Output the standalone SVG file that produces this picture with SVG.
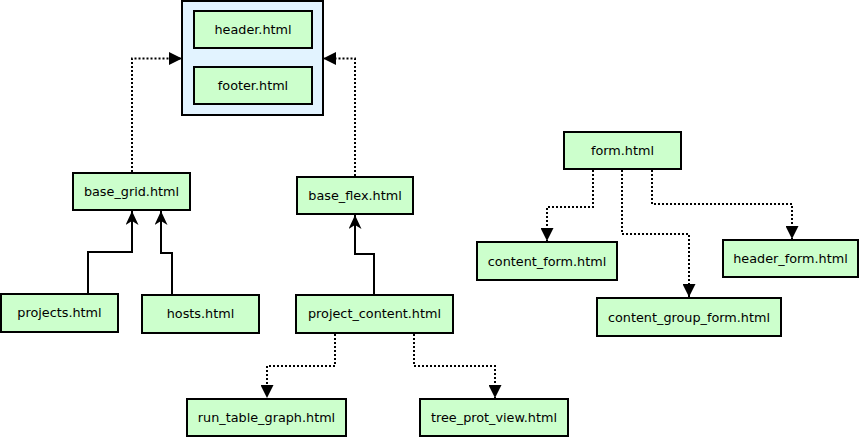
<svg xmlns="http://www.w3.org/2000/svg" width="860" height="437" viewBox="0 0 860 437">
<style>
.n rect{fill:#ccffcc;stroke:#000;stroke-width:2}
.n text{font-family:"DejaVu Sans",sans-serif;font-size:12.8px;fill:#000;text-anchor:middle;dominant-baseline:central}
.s{fill:none;stroke:#000;stroke-width:2;marker-end:url(#st)}
.d{fill:none;stroke:#000;stroke-width:2;stroke-dasharray:2,2;marker-end:url(#tr)}
</style>
<defs>
<marker id="st" markerUnits="userSpaceOnUse" markerWidth="14" markerHeight="13" viewBox="0 0 14 13" refX="14" refY="6.5" orient="auto">
<path d="M0,0 L14,6.5 L0,13 L4,6.5 Z" fill="#000"/>
</marker>
<marker id="tr" markerUnits="userSpaceOnUse" markerWidth="13" markerHeight="13" viewBox="0 0 13 13" refX="13" refY="6.5" orient="auto">
<path d="M0,0 L13,6.5 L0,13 Z" fill="#000"/>
</marker>
</defs>
<rect x="0" y="0" width="860" height="437" fill="#fff"/>
<g id="layout">
<rect x="182" y="1" width="141" height="114" fill="#e2f3ff" stroke="#000" stroke-width="2"/>
</g>
<g id="header" class="n"><rect x="194" y="11" width="118" height="37"/><text x="253" y="29.5">header.html</text></g>
<g id="footer" class="n"><rect x="194" y="67" width="118" height="37"/><text x="253" y="85.5">footer.html</text></g>
<g id="base_grid" class="n"><rect x="73" y="173" width="117" height="37"/><text x="131.5" y="191.5">base_grid.html</text></g>
<g id="base_flex" class="n"><rect x="297" y="177" width="116" height="37"/><text x="355" y="195.5">base_flex.html</text></g>
<g id="projects" class="n"><rect x="1" y="294" width="117" height="38"/><text x="59.5" y="312.5">projects.html</text></g>
<g id="hosts" class="n"><rect x="142" y="295" width="117" height="38"/><text x="200.5" y="313.5">hosts.html</text></g>
<g id="project_content" class="n"><rect x="296" y="295" width="157" height="38"/><text x="374.5" y="313.5">project_content.html</text></g>
<g id="run_table_graph" class="n"><rect x="187" y="399" width="159" height="37"/><text x="266.5" y="417.5">run_table_graph.html</text></g>
<g id="tree_prot_view" class="n"><rect x="420" y="399" width="148" height="37"/><text x="494" y="417.5">tree_prot_view.html</text></g>
<g id="form" class="n"><rect x="564" y="132" width="117" height="37"/><text x="622.5" y="150.5">form.html</text></g>
<g id="content_form" class="n"><rect x="477" y="242" width="140" height="38"/><text x="547" y="261">content_form.html</text></g>
<g id="header_form" class="n"><rect x="723" y="240" width="135" height="37"/><text x="790.5" y="258.5">header_form.html</text></g>
<g id="content_group_form" class="n"><rect x="597" y="298" width="184" height="38"/><text x="689" y="317">content_group_form.html</text></g>
<g id="connectors">
<path class="d" d="M132,172 V58.5 H182"/>
<path class="d" d="M355,176 V58.5 H323"/>
<path class="s" d="M88,293 V252 H132 V211"/>
<path class="s" d="M172,294 V253 H161 V211"/>
<path class="s" d="M374,294 V254 H355 V215"/>
<path class="d" d="M335,334 V366 H267 V398"/>
<path class="d" d="M414,334 V366 H495 V398"/>
<path class="d" d="M593,170 V207 H547 V241"/>
<path class="d" d="M622,170 V234 H689 V297"/>
<path class="d" d="M652,170 V204 H792 V239"/>
</g>
</svg>
